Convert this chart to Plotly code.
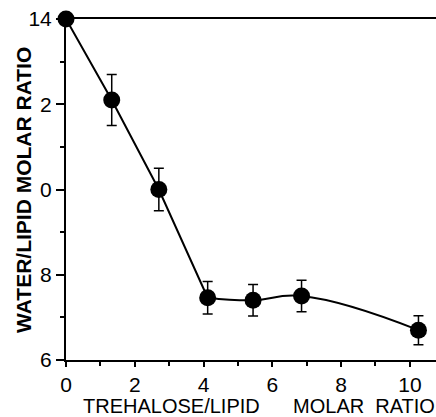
import plotly.graph_objects as go

x_vals = [0.0, 1.33, 2.7, 4.12, 5.44, 6.85, 10.25]
y_vals = [14.0, 12.1, 10.0, 7.46, 7.40, 7.50, 6.70]
y_err = [0.0, 0.6, 0.5, 0.38, 0.37, 0.37, 0.34]
y_tickvals = [6, 8, 10, 12, 14]
y_ticktext = ["6", "8", "0", "2", "14"]
x_tickvals = [0, 2, 4, 6, 8, 10]
x_ticktext = ["0", "2", "4", "6", "8", "10"]

FONT = "Liberation Sans, Arial, sans-serif"
SPLIT = 3  # straight segments up to this index, smooth curve afterwards

fig = go.Figure()
fig.add_trace(go.Scatter(
    x=x_vals[:SPLIT + 1], y=y_vals[:SPLIT + 1], mode="lines",
    line=dict(color="black", width=2), showlegend=False, hoverinfo="skip",
))
fig.add_trace(go.Scatter(
    x=x_vals[SPLIT:], y=y_vals[SPLIT:], mode="lines",
    line=dict(color="black", width=2, shape="spline", smoothing=1.3),
    showlegend=False, hoverinfo="skip",
))
fig.add_trace(go.Scatter(
    x=x_vals, y=y_vals,
    mode="markers",
    marker=dict(size=17, color="black"),
    error_y=dict(type="data", array=y_err, visible=True, color="black", thickness=1.5, width=5),
    showlegend=False,
    cliponaxis=False,
))

fig.update_layout(
    width=436, height=417,
    margin=dict(l=66, r=0, t=19, b=57),
    paper_bgcolor="white", plot_bgcolor="white",
    font=dict(family=FONT, color="black", size=21),
    xaxis=dict(
        range=[0, 10.76], showgrid=False, zeroline=False,
        showline=True, linecolor="black", linewidth=2, mirror=True,
        ticks="outside", ticklen=5, tickwidth=2, tickcolor="black",
        tickvals=x_tickvals, ticktext=x_ticktext,
        tickfont=dict(size=21),
        minor=dict(tickvals=[1, 3, 5, 7, 9], ticks="outside", ticklen=4, tickwidth=1.5, tickcolor="black"),
    ),
    yaxis=dict(
        range=[6, 14], showgrid=False, zeroline=False,
        showline=True, linecolor="black", linewidth=2,
        ticks="outside", ticklen=8, tickwidth=2, tickcolor="black",
        tickvals=y_tickvals, ticktext=y_ticktext,
        tickfont=dict(size=21),
        minor=dict(tickvals=[7, 9, 11, 13], ticks="outside", ticklen=4, tickwidth=1.5, tickcolor="black"),
    ),
    annotations=[
        dict(text="<b>WATER/LIPID MOLAR RATIO</b>", xref="paper", yref="paper",
             x=-0.115, y=0.5, textangle=-90, showarrow=False,
             xanchor="center", yanchor="middle", font=dict(size=21, family=FONT)),
        dict(text="TREHALOSE/LIPID" + "\u00a0" * 6 + "MOLAR\u00a0\u00a0RATIO",
             xref="paper", yref="paper", x=0.522, y=-0.135,
             showarrow=False, xanchor="center", yanchor="middle",
             font=dict(size=20, family=FONT)),
    ],
)

fig.write_html("out.html")
